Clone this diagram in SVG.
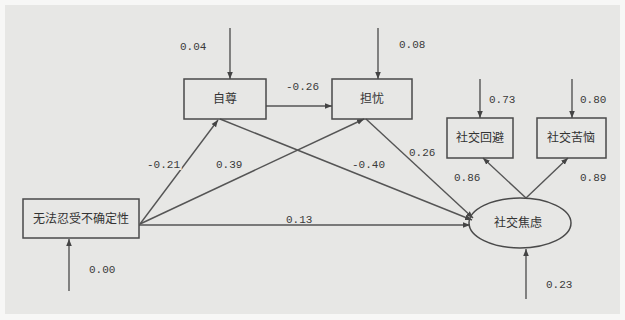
<svg xmlns="http://www.w3.org/2000/svg" width="625" height="320" viewBox="0 0 625 320">
<defs>
<marker id="ah" viewBox="0 0 10 10" refX="10" refY="5" markerWidth="7" markerHeight="7" orient="auto" markerUnits="userSpaceOnUse">
<path d="M0,1 L10,5 L0,9 Z" fill="#444"/>
</marker>
<style>
.box{fill:none;stroke:#4a4a4a;stroke-width:1.5}
.ln{fill:none;stroke:#555;stroke-width:1.4;marker-end:url(#ah)}
.cn{font-family:"Noto Sans CJK SC","Liberation Sans",sans-serif;font-size:12px;fill:#333;text-anchor:middle}
.num{font-family:"Liberation Mono","DejaVu Sans Mono",monospace;font-size:11px;fill:#3a3a3a}
.halo{paint-order:stroke;stroke:#e7e7e5;stroke-width:4}
</style>
</defs>
<rect width="625" height="320" fill="#f7f7f6"/>
<rect x="5" y="5" width="615" height="309" fill="#e7e7e5"/>
<g id="connectors">
<line class="ln" x1="230" y1="28" x2="230" y2="79"/>
<line class="ln" x1="378" y1="28" x2="378" y2="79"/>
<line class="ln" x1="480" y1="79" x2="480" y2="118"/>
<line class="ln" x1="572" y1="79" x2="572" y2="118"/>
<line class="ln" x1="69" y1="291" x2="69" y2="239"/>
<line class="ln" x1="526" y1="299" x2="526" y2="249"/>
<line class="ln" x1="266" y1="106" x2="332" y2="106"/>
<line class="ln" x1="140" y1="224" x2="218" y2="120"/>
<line class="ln" x1="140" y1="224" x2="364" y2="119"/>
<line class="ln" x1="139" y1="225" x2="470" y2="225"/>
<line class="ln" x1="220" y1="119" x2="472" y2="220"/>
<line class="ln" x1="366" y1="119" x2="473" y2="218"/>
<line class="ln" x1="526" y1="198" x2="483" y2="158"/>
<line class="ln" x1="526" y1="198" x2="568" y2="158"/>
</g>
<g id="labels">
<text class="num" x="180" y="50">0.04</text>
<text class="num" x="286" y="90">-0.26</text>
<text class="num" x="399" y="48">0.08</text>
<text class="num" x="489" y="103">0.73</text>
<text class="num" x="580" y="103">0.80</text>
<text class="num halo" x="409" y="156">0.26</text>
<text class="num halo" x="147" y="168">-0.21</text>
<text class="num" x="216" y="168">0.39</text>
<text class="num" x="286" y="223">0.13</text>
<text class="num" x="89" y="273">0.00</text>
<text class="num halo" x="352" y="168">-0.40</text>
<text class="num" x="454" y="181">0.86</text>
<text class="num" x="580" y="181">0.89</text>
<text class="num" x="546" y="288">0.23</text>
</g>
<g id="n-uncertainty">
<rect class="box" x="23" y="199" width="116" height="39"/>
<text class="cn" x="81" y="223">无法忍受不确定性</text>
</g>
<g id="n-selfesteem">
<rect class="box" x="184" y="79" width="82" height="40"/>
<text class="cn" x="225" y="103">自尊</text>
</g>
<g id="n-worry">
<rect class="box" x="332" y="79" width="80" height="40"/>
<text class="cn" x="372" y="103">担忧</text>
</g>
<g id="n-avoid">
<rect class="box" x="447" y="118" width="66" height="40"/>
<text class="cn" x="480" y="142">社交回避</text>
</g>
<g id="n-distress">
<rect class="box" x="537" y="118" width="69" height="40"/>
<text class="cn" x="571" y="142">社交苦恼</text>
</g>
<g id="n-anxiety">
<ellipse class="box" cx="520" cy="223" rx="51" ry="25"/>
<text class="cn" x="518" y="227">社交焦虑</text>
</g>
</svg>
